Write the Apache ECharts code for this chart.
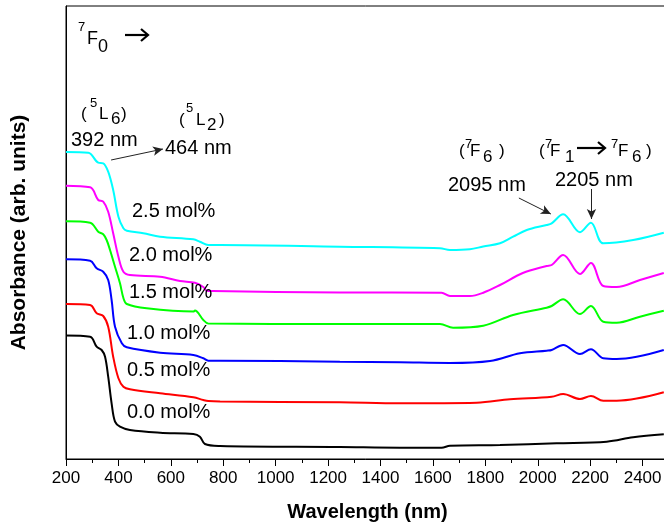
<!DOCTYPE html>
<html><head><meta charset="utf-8">
<script src="https://cdn.jsdelivr.net/npm/echarts@6/dist/echarts.min.js"></script>
<style>html,body{margin:0;padding:0;background:#fff;overflow:hidden}#c{width:664px;height:527px}</style>
</head><body><div id="c"></div>
<script>
// ---- data (wavelength in nm, absorbance in arbitrary units) ----
const xTickStep = 200;
const seriesNames = ['0.0 mol%', '0.5 mol%', '1.0 mol%', '1.5 mol%', '2.0 mol%', '2.5 mol%'];
const seriesColors = ['#000000', '#ff0000', '#0000ff', '#00ff00', '#ff00ff', '#00ffff'];

const wl00 = [200, 292, 317, 336, 349, 361, 374, 387, 406, 444, 559, 686, 711, 730, 788, 1245, 1474, 1633, 1665, 1856, 2072, 2263, 2364, 2481];
const ab00 = [1.235, 1.223, 1.123, 1.09, 1.023, 0.823, 0.557, 0.373, 0.323, 0.29, 0.263, 0.25, 0.223, 0.15, 0.13, 0.12, 0.113, 0.113, 0.133, 0.14, 0.157, 0.173, 0.217, 0.247];

const wl05 = [200, 292, 317, 342, 361, 380, 400, 419, 444, 559, 686, 724, 743, 788, 1245, 1474, 1767, 1894, 2053, 2097, 2161, 2203, 2250, 2301, 2481];
const ab05 = [1.55, 1.54, 1.457, 1.43, 1.323, 1.023, 0.807, 0.723, 0.697, 0.657, 0.617, 0.59, 0.58, 0.575, 0.567, 0.557, 0.563, 0.597, 0.623, 0.65, 0.60, 0.63, 0.583, 0.583, 0.667];

const wl10 = [200, 292, 317, 342, 361, 374, 387, 413, 432, 559, 686, 724, 743, 788, 1245, 1474, 1665, 1818, 1932, 2034, 2053, 2097, 2161, 2203, 2250, 2301, 2481];
const ab10 = [1.997, 1.983, 1.907, 1.873, 1.79, 1.59, 1.323, 1.157, 1.117, 1.063, 1.04, 1.007, 0.983, 0.983, 0.973, 0.967, 0.96, 0.98, 1.057, 1.083, 1.09, 1.14, 1.05, 1.097, 1.007, 1.0, 1.09];

const wl15 = [200, 292, 323, 342, 355, 368, 387, 406, 419, 432, 508, 686, 692, 724, 743, 1245, 1627, 1677, 1792, 1906, 2034, 2053, 2097, 2161, 2203, 2250, 2301, 2390, 2481];
const ab15 = [2.377, 2.363, 2.273, 2.247, 2.19, 2.09, 1.923, 1.757, 1.61, 1.55, 1.507, 1.475, 1.485, 1.39, 1.355, 1.35, 1.35, 1.313, 1.333, 1.44, 1.513, 1.53, 1.597, 1.45, 1.53, 1.373, 1.363, 1.423, 1.483];

const wl20 = [200, 292, 323, 342, 361, 380, 400, 419, 444, 559, 635, 692, 724, 737, 761, 1245, 1633, 1665, 1741, 1792, 1856, 1943, 2034, 2053, 2097, 2161, 2203, 2250, 2301, 2390, 2481];
const ab20 = [2.733, 2.717, 2.59, 2.573, 2.473, 2.257, 2.023, 1.873, 1.84, 1.823, 1.78, 1.763, 1.72, 1.683, 1.68, 1.665, 1.663, 1.63, 1.63, 1.663, 1.74, 1.86, 1.93, 1.94, 2.04, 1.85, 1.96, 1.73, 1.72, 1.79, 1.86];

const wl25 = [200, 285, 323, 342, 361, 380, 400, 419, 432, 495, 559, 686, 711, 743, 788, 1245, 1627, 1665, 1741, 1792, 1856, 1906, 1958, 2034, 2053, 2097, 2161, 2203, 2250, 2364, 2481];
const ab25 = [3.07, 3.063, 2.963, 2.957, 2.873, 2.69, 2.423, 2.307, 2.283, 2.257, 2.223, 2.197, 2.173, 2.14, 2.14, 2.123, 2.107, 2.09, 2.097, 2.125, 2.157, 2.223, 2.29, 2.34, 2.357, 2.447, 2.267, 2.363, 2.157, 2.19, 2.263];

// peak annotation arrows: [fromNm, fromAbs, toNm, toAbs]
const arrowLines = [
  [372, 2.99, 570, 3.10],
  [1928, 2.61, 2050, 2.45],
  [2205, 2.70, 2205, 2.40]
];

const wlSets = [wl00, wl05, wl10, wl15, wl20, wl25];
const abSets = [ab00, ab05, ab10, ab15, ab20, ab25];

// ---- chart ----
const FONT = '"Liberation Sans", Arial, Helvetica, sans-serif';
const chart = echarts.init(document.getElementById('c'), null, {renderer: 'canvas'});

const series = seriesNames.map((name, i) => ({
  name: name,
  type: 'line',
  data: wlSets[i].map((w, k) => [w, abSets[i][k]]),
  showSymbol: false,
  smooth: 0.35,
  lineStyle: {color: seriesColors[i], width: 2},
  itemStyle: {color: seriesColors[i]},
  silent: true,
  animation: false,
  z: 2
}));

series.push({
  type: 'line',
  data: [],
  silent: true,
  animation: false,
  markLine: {
    silent: true,
    animation: false,
    symbol: ['none', 'arrow'],
    symbolSize: [7, 10],
    label: {show: false},
    lineStyle: {color: '#222', width: 1, type: 'solid'},
    emphasis: {disabled: true},
    data: arrowLines.map(a => [{coord: [a[0], a[1]]}, {coord: [a[2], a[3]]}])
  }
});

// annotation text pieces: [text, left x, center y, fontSize]
const pieces = [
  ['7', 78, 27, 13], ['F', 87, 39, 18], ['0', 98, 47, 18],
  ['(', 81, 114, 17], ['5', 90, 103, 13], ['L', 99, 114, 17], ['6', 111, 119, 17], [')', 121, 114, 17],
  ['(', 179, 120, 17], ['5', 186, 108, 13], ['L', 196, 120, 17], ['2', 207, 125, 17], [')', 219, 120, 17],
  ['392 nm', 71, 140, 20], ['464 nm', 165, 148, 20],
  ['(', 459, 151, 17], ['7', 465, 144, 13], ['F', 470, 151, 17], ['6', 483, 157.5, 17], [')', 499, 151, 17],
  ['(', 539, 151, 17], ['7', 545, 144, 13], ['F', 550, 151, 17], ['1', 565, 157.5, 17],
  ['7', 611, 144, 13], ['F', 618, 151, 17], ['6', 632, 157.5, 17], [')', 646, 151, 17],
  ['2095 nm', 448, 185, 20], ['2205 nm', 555, 180, 20]
];
const molLabels = [
  ['0.0 mol%', 127, 412.5], ['0.5 mol%', 127, 370.5], ['1.0 mol%', 127, 333.5],
  ['1.5 mol%', 129, 292.5], ['2.0 mol%', 129, 255.5], ['2.5 mol%', 132, 211.5]
];
// transition arrows "→": [x0, x1, y]
const glyphArrows = [[125, 148, 35], [577, 605, 148]];

const graphics = pieces.concat(molLabels.map(m => [m[0], m[1], m[2], 20])).map(p => ({
  type: 'text',
  x: p[1], y: p[2],
  silent: true,
  style: {text: p[0], fontSize: p[3], fontFamily: FONT, fill: '#000', align: 'left', verticalAlign: 'middle'},
  z: 10
}));
glyphArrows.forEach(a => {
  graphics.push({type: 'line', silent: true, z: 10,
    shape: {x1: a[0], y1: a[2], x2: a[1] - 1, y2: a[2]},
    style: {stroke: '#000', lineWidth: 2.2}});
  graphics.push({type: 'polyline', silent: true, z: 10,
    shape: {points: [[a[1] - 7, a[2] - 6], [a[1], a[2]], [a[1] - 7, a[2] + 6]]},
    style: {stroke: '#000', lineWidth: 2.2, fill: null, lineJoin: 'miter'}});
});

chart.setOption({
  animation: false,
  backgroundColor: '#fff',
  grid: {left: 66, top: 6, right: -31, bottom: 68, show: true, borderColor: '#000', borderWidth: 1,
         backgroundColor: 'transparent', outerBoundsMode: 'none', containLabel: false},
  xAxis: {
    type: 'value', min: 200, max: 2600, interval: xTickStep,
    name: 'Wavelength (nm)', nameLocation: 'middle', nameGap: 43,
    nameTextStyle: {fontSize: 20, fontWeight: 'bold', color: '#000', fontFamily: FONT, padding: [0, 26, 0, 0]},
    axisLine: {show: true, lineStyle: {color: '#000', width: 1}},
    axisTick: {show: true, inside: false, length: 7, lineStyle: {color: '#000', width: 1}},
    minorTick: {show: true, splitNumber: 2, length: 4, lineStyle: {color: '#000', width: 1}},
    axisLabel: {fontSize: 17, color: '#000', margin: 11, fontFamily: FONT, formatter: v => String(v)},
    splitLine: {show: false}, minorSplitLine: {show: false}
  },
  yAxis: {
    type: 'value', min: 0, max: 4.53,
    name: 'Absorbance (arb. units)', nameLocation: 'middle', nameGap: 36,
    nameTextStyle: {fontSize: 21, fontWeight: 'bold', color: '#000', fontFamily: FONT},
    axisLine: {show: true, lineStyle: {color: '#000', width: 1}},
    axisTick: {show: false}, axisLabel: {show: false}, splitLine: {show: false}
  },
  series: series,
  graphic: graphics
});
</script></body></html>
